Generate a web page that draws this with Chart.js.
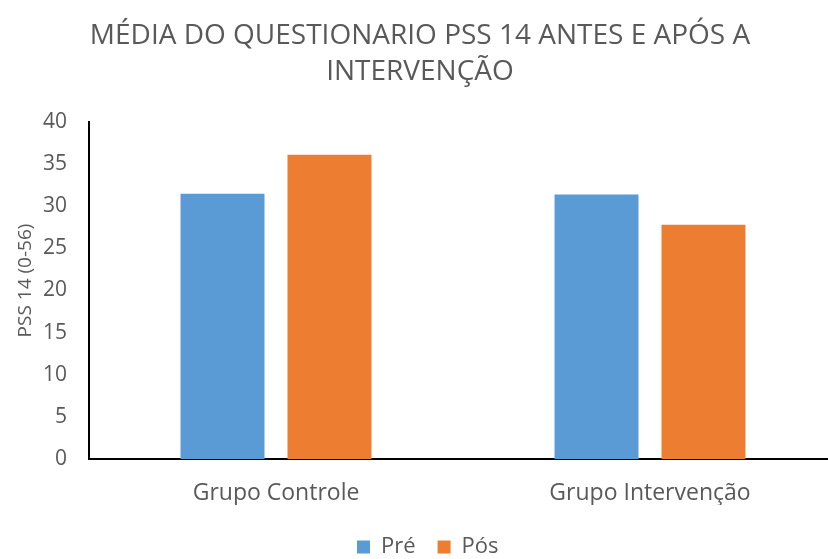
<!DOCTYPE html>
<html>
<head>
<meta charset="utf-8">
<script src="https://cdn.jsdelivr.net/npm/chart.js@4.4.1/dist/chart.umd.min.js"></script>
<style>
  html, body { margin: 0; padding: 0; background: #fff; }
  #wrap { width: 828px; height: 559px; }
</style>
</head>
<body>
<div id="wrap"><canvas id="chart" width="828" height="559"></canvas></div>
<script>
// ---- Data ----
const categories = ['Grupo Controle', 'Grupo Intervenção'];
const preValues = [31.5, 31.4];
const posValues = [36.1, 27.8];
const seriesNames = ['Pré', 'Pós'];
const yTicks = [0, 5, 10, 15, 20, 25, 30, 35, 40];

const FONT = "'Open Sans', sans-serif";
const GREY = '#595959';

// ---- Nudge things to where Excel put them ----
const nudge = {
  id: 'nudge',
  afterLayout(chart) {
    // plot area in the original runs a little past the canvas edge
    const x = chart.scales.x;
    x.right += 9;
    x.width += 9;
    x.configure();

    // title centred slightly right of the canvas centre
    chart.titleBlock.left += 6;
    chart.titleBlock.right += 6;

    // legend: first box at x=357, text centred on y=547
    const lg = chart.legend;
    const pad = lg.options.labels.padding;
    const startX = (lg.left + pad + lg.right - lg.lineWidths[0]) / 2;
    const dx = 357 - startX;
    const dy = 547 - (lg.top + pad + 11);
    lg.left += dx; lg.right += dx;
    lg.top += dy; lg.bottom += dy;

    // y title sits a bit above the axis middle
    const y = chart.scales.y;
    if (!y._nudged) {
      const orig = y.drawTitle;
      y.drawTitle = function () {
        this.ctx.save();
        this.ctx.translate(0, -10);
        orig.call(this);
        this.ctx.restore();
      };
      y._nudged = true;
    }
  }
};

const ctx = document.getElementById('chart').getContext('2d');
new Chart(ctx, {
  type: 'bar',
  data: {
    labels: categories,
    datasets: [
      { label: seriesNames[0], data: preValues, backgroundColor: '#5B9BD5' },
      { label: seriesNames[1], data: posValues, backgroundColor: '#ED7D31' }
    ]
  },
  plugins: [nudge],
  options: {
    responsive: false,
    animation: false,
    devicePixelRatio: 1,
    categoryPercentage: 0.572,
    barPercentage: 0.785,
    layout: { padding: 0 },
    plugins: {
      title: {
        display: true,
        text: ['MÉDIA DO QUESTIONARIO PSS 14 ANTES E APÓS A', 'INTERVENÇÃO'],
        color: GREY,
        font: { family: FONT, size: 28, weight: 'normal', lineHeight: 1.286 },
        padding: { top: 18, bottom: 32 }
      },
      legend: {
        position: 'bottom',
        labels: {
          color: GREY,
          font: { family: FONT, size: 22, lineHeight: 1 },
          boxWidth: 13,
          boxHeight: 13,
          padding: 22
        }
      },
      tooltip: { enabled: false }
    },
    scales: {
      x: {
        grid: { display: false, drawTicks: false },
        border: { color: '#000', width: 2 },
        ticks: { color: GREY, font: { family: FONT, size: 23 }, padding: 21 },
        afterFit: s => { s.height = 46; }
      },
      y: {
        min: 0,
        max: 40,
        afterBuildTicks: s => { s.ticks = yTicks.map(v => ({ value: v })); },
        grid: { display: false, drawTicks: false },
        border: { color: '#000', width: 2 },
        ticks: { color: GREY, font: { family: FONT, size: 21 }, padding: 22 },
        title: {
          display: true,
          text: 'PSS 14 (0-56)',
          color: GREY,
          font: { family: FONT, size: 19 },
          padding: { top: 14, bottom: 0 }
        },
        afterFit: s => { s.width = 89; }
      }
    }
  }
});
</script>
</body>
</html>
